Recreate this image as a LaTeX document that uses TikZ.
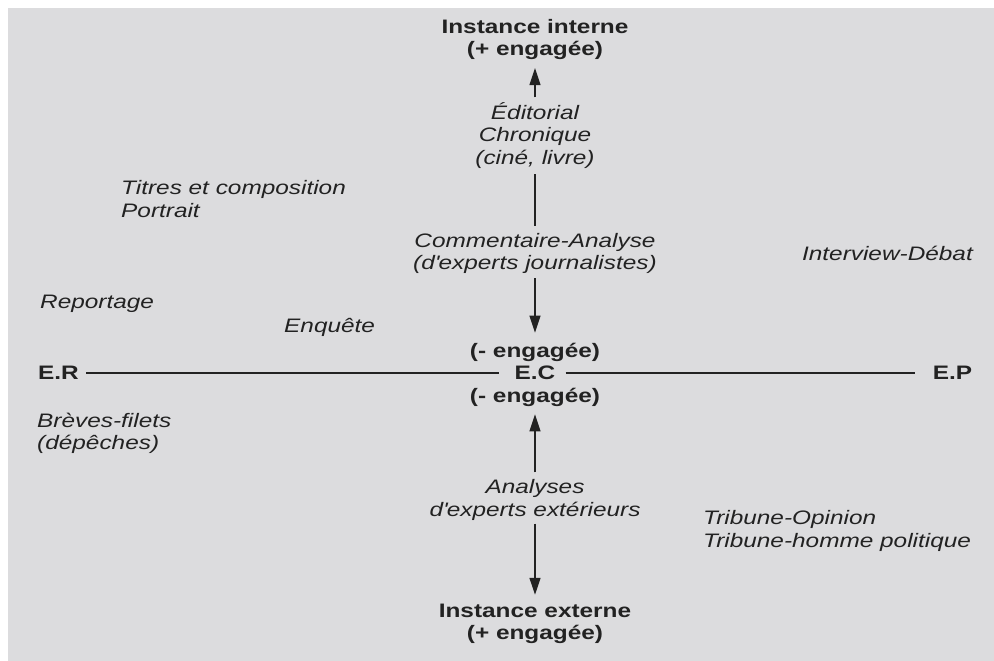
\documentclass[tikz,border=0pt]{standalone}
\usepackage{fontspec}
\setmainfont[FakeStretch=1.25]{Liberation Sans}
\usetikzlibrary{arrows.meta}
\definecolor{fond}{HTML}{DCDCDE}
\definecolor{encre}{HTML}{222222}
\newcommand{\taille}{\fontsize{19.5}{22.5}\selectfont}
\tikzset{
    pole/.style={font=\taille\bfseries, text=encre, inner sep=0pt, align=center},
    genre/.style={font=\taille\itshape, text=encre, inner sep=0pt},
    axe/.style={draw=encre, line width=1.2pt},
    fleche/.style={axe, -{Triangle[length=17pt,width=11pt]}},
}
\begin{document}
\begin{tikzpicture}[x=1pt,y=-1pt]
\useasboundingbox (0,0) rectangle (994,661);
\fill[fond] (8,8) rectangle (994,661);

\node[pole] (interne) at (535,39.5) {Instance interne\\(+ engagée)};
\node[genre, align=center] (edito) at (535,135.5) {Éditorial\\Chronique\\(ciné, livre)};
\node[genre, align=center] (comment) at (535,253.5) {Commentaire-Analyse\\(d\textquotesingle experts journalistes)};
\node[pole] (engA) at (535,352) {(- engagée)};
\node[pole] (EC) at (535,373) {E.C};
\node[pole] (engB) at (535,397) {(- engagée)};
\node[genre, align=center] (analyses) at (535,500) {Analyses\\d\textquotesingle experts extérieurs};
\node[pole] (externe) at (535,624) {Instance externe\\(+ engagée)};
\node[pole] (ER) at (58.5,373) {E.R};
\node[pole] (EP) at (952.5,373) {E.P};

\node[genre, anchor=west, align=left] (titres) at (121,199) {Titres et composition\\Portrait};
\node[genre, anchor=base west] (reportage) at (40,308) {Reportage};
\node[genre, anchor=base west] (enquete) at (284,332) {Enquête};
\node[genre, anchor=west, align=left] (breves) at (37,433.5) {Brèves-filets\\(dépêches)};
\node[genre, anchor=base east] (interview) at (973,260) {Interview-Débat};
\node[genre, anchor=west, align=left] (tribune) at (703,531) {Tribune-Opinion\\Tribune-homme politique};

\draw[fleche, shorten <=5pt, shorten >=8pt] (edito.north) -- (interne.south);
\draw[axe, shorten <=7pt, shorten >=5pt] (comment.north) -- (edito.south);
\draw[fleche, shorten <=4pt, shorten >=10pt] (comment.south) -- (engA.north);
\draw[fleche, shorten <=7pt, shorten >=8pt] (analyses.north) -- (engB.south);
\draw[fleche, shorten <=3pt, shorten >=9pt] (analyses.south) -- (externe.north);
\draw[axe, shorten <=7pt, shorten >=15pt] (ER.east) -- (EC.west);
\draw[axe, shorten <=10pt, shorten >=18pt] (EC.east) -- (EP.west);
\end{tikzpicture}
\end{document}
